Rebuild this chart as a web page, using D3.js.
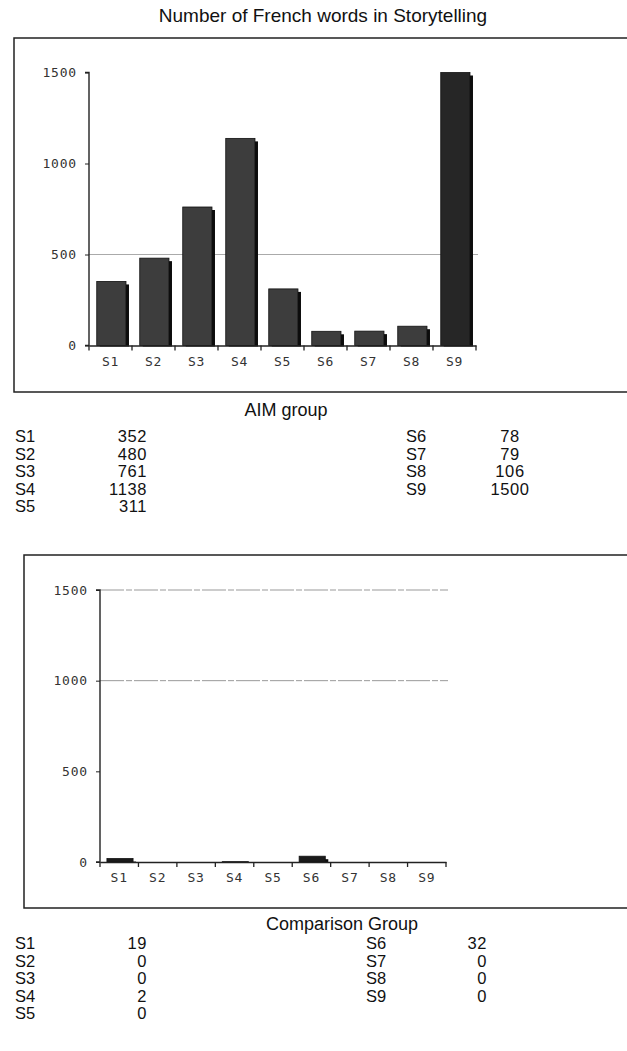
<!DOCTYPE html>
<html>
<head>
<meta charset="utf-8">
<script src="https://cdn.jsdelivr.net/npm/d3@7"></script>
<style>
  body { margin: 0; background: #fff; }
  svg { display: block; }
  .tick-label { font-family: "DejaVu Sans Mono", monospace; font-size: 13px; fill: #333; letter-spacing: 0.8px; }
  .txt { font-family: "Liberation Sans", Arial, sans-serif; fill: #111; }
</style>
</head>
<body>
<div id="chart"></div>
<script>
// Number of French words in Storytelling: AIM group vs comparison group
const subjects = ["S1", "S2", "S3", "S4", "S5", "S6", "S7", "S8", "S9"];
const aimWords = [352, 480, 761, 1138, 311, 78, 79, 106, 1500];
const comparisonWords = [19, 0, 0, 2, 0, 32, 0, 0, 0];
const yTicks = [0, 500, 1000, 1500];

const W = 627, H = 1051;
const svg = d3.select("#chart").append("svg").attr("width", W).attr("height", H);

svg.append("text").attr("class", "txt")
  .attr("x", 323).attr("y", 22).attr("text-anchor", "middle")
  .attr("font-size", 19)
  .text("Number of French words in Storytelling");

// one framed panel with its bar chart
function panel(opts) {
  const { frame, plot, values, grid, label, table } = opts;

  // frame: open on the right, the page cuts it off
  svg.append("path")
    .attr("d", `M${W + 2},${frame.y0}H${frame.x0}V${frame.y1}H${W + 2}`)
    .attr("fill", "none").attr("stroke", "#222").attr("stroke-width", 1.5);

  const x = d3.scaleBand().domain(subjects).range([plot.x0, plot.x1]).padding(0);
  const y = d3.scaleLinear().domain([0, 1500]).range([plot.y0, plot.y1]);
  const bw = x.bandwidth();

  // gridlines
  svg.append("g").selectAll("line").data(grid).join("line")
    .attr("x1", plot.x0).attr("x2", plot.x1 + 2)
    .attr("y1", d => y(d)).attr("y2", d => y(d))
    .attr("stroke", opts.gridColor || "#aaa").attr("stroke-width", 1)
    .attr("stroke-dasharray", opts.gridDash || null);

  // bars: black drop shadow behind a dark grey face
  const bars = svg.append("g").selectAll("g").data(values).join("g");
  bars.append("rect")
    .attr("x", (d, i) => x(subjects[i]) + bw * 0.18 + 3)
    .attr("y", d => Math.min(y(d) + 3, y(0)))
    .attr("width", bw * 0.68)
    .attr("height", d => Math.max(0, y(0) - y(d) - 3) + (d > 0 ? 1 : 0))
    .attr("fill", "#0c0c0c");
  bars.append("rect")
    .attr("x", (d, i) => x(subjects[i]) + bw * 0.18)
    .attr("y", d => y(d))
    .attr("width", bw * 0.68)
    .attr("height", d => y(0) - y(d))
    .attr("fill", (d, i) => opts.faceColor(d, i))
    .attr("stroke", "#111").attr("stroke-width", d => d > 0 ? 0.8 : 0);

  // axes
  const yAxis = svg.append("g")
    .attr("transform", `translate(${plot.x0},0)`)
    .call(d3.axisLeft(y).tickValues(yTicks).tickSize(4).tickPadding(8).tickFormat(d3.format("d")));
  const xAxis = svg.append("g")
    .attr("transform", `translate(0,${plot.y0})`)
    .call(d3.axisBottom(x).tickSize(0).tickPadding(11));
  // category boundary ticks
  xAxis.append("g").selectAll("line").data(subjects.concat(["end"])).join("line")
    .attr("x1", (d, i) => plot.x0 + i * bw).attr("x2", (d, i) => plot.x0 + i * bw)
    .attr("y1", 0).attr("y2", 5)
    .attr("stroke", "#222").attr("stroke-width", 1.3);
  [yAxis, xAxis].forEach(g => {
    g.select(".domain").attr("stroke", "#222").attr("stroke-width", 1.4);
    g.selectAll(".tick line").attr("stroke", "#222");
    g.selectAll(".tick text").attr("class", "tick-label").attr("fill", null);
  });
  yAxis.select(".domain").attr("d", `M-4,${plot.y1}H0V${plot.y0}H-4`);

  svg.append("text").attr("class", "txt")
    .attr("x", label.x).attr("y", label.y).attr("text-anchor", "middle")
    .attr("font-size", 18).text(label.text);

  // value table under the chart, two columns
  const rows = subjects.map((s, i) => ({ s, v: values[i], col: i < 5 ? 0 : 1, row: i < 5 ? i : i - 5 }));
  const t = svg.append("g").selectAll("g").data(rows).join("g")
    .attr("transform", d => `translate(0,${table.y + d.row * table.dy})`);
  t.append("text").attr("class", "txt").attr("font-size", 16.5)
    .attr("x", d => table.labelX[d.col]).text(d => d.s);
  t.append("text").attr("class", "txt").attr("font-size", 16.5)
    .attr("letter-spacing", 0.6)
    .attr("x", d => table.valueX[d.col]).attr("text-anchor", d => table.anchor[d.col])
    .text(d => d.v);
}

panel({
  frame: { x0: 14, y0: 38, y1: 392 },
  plot: { x0: 89, x1: 476, y0: 345.5, y1: 72.5 },
  values: aimWords,
  grid: [500],
  faceColor: (d, i) => i === 8 ? "#262626" : "#3d3d3d",
  label: { text: "AIM group", x: 286, y: 416 },
  table: { y: 442, dy: 17.6, labelX: [15, 406], valueX: [147, 510], anchor: ["end", "middle"] }
});

panel({
  frame: { x0: 24, y0: 555, y1: 908 },
  plot: { x0: 100, x1: 446, y0: 862, y1: 590 },
  values: comparisonWords,
  grid: [1000, 1500],
  gridDash: "24,2,6,2",
  gridColor: "#999",
  faceColor: () => "#1a1a1a",
  label: { text: "Comparison Group", x: 342, y: 930 },
  table: { y: 949, dy: 17.6, labelX: [15, 366], valueX: [147, 487], anchor: ["end", "end"] }
});
</script>
</body>
</html>
